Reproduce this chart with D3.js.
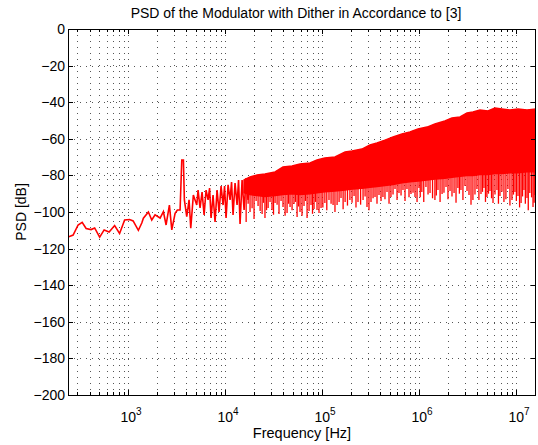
<!DOCTYPE html>
<html>
<head>
<meta charset="utf-8">
<style>
  body { margin: 0; background: #fff; }
  svg text { font-family: "Liberation Sans", Arial, Helvetica, sans-serif; fill: #000; }
</style>
</head>
<body>
<div id="chart"></div>
<script src="https://cdn.jsdelivr.net/npm/d3@7"></script>
<script>
    var width = 538,
        height = 445;

    var margin = {top: 29, right: 2, bottom: 50, left: 68};

    // low frequency part of the trace (single line, incl. tone at ~3.6 kHz)
    var lowFreq = [240, 271, 305, 336, 369, 415, 452, 509, 566, 637, 726, 817, 921, 1036, 1127, 1276,
        1384, 1438, 1619, 1754, 1897, 2138, 2312, 2465, 2667, 2822, 3053, 3224, 3436, 3579, 3719, 3806,
        4027, 4254, 4429, 4710, 5105, 5268, 5521, 5794, 6079, 6372, 6683, 6924, 7171, 7520, 7886, 8270,
        8674, 9096, 9539, 9886, 10240, 10740, 11260, 11670, 12090, 12680, 13300, 13780, 14280, 14980,
        15710, 16460, 17260, 18100];
    var lowDb = [-113.7, -112.6, -107.1, -105.7, -109.0, -109.6, -108.7, -113.7, -109.8, -110.9, -107.4,
        -111.7, -104.4, -104.1, -104.9, -110.0, -106.0, -103.4, -100.0, -104.4, -101.6, -103.3, -99.8,
        -107.1, -96.2, -109.8, -100.7, -98.9, -98.9, -71.6, -71.6, -93.4, -102.6, -93.4, -108.9, -90.7,
        -96.2, -88.0, -97.8, -89.1, -101.6, -88.0, -93.4, -86.9, -103.3, -90.7, -105.5, -88.0, -100.0,
        -85.8, -96.2, -85.8, -103.3, -85.2, -93.4, -83.6, -101.6, -84.2, -96.2, -82.5, -106.6, -82.5,
        -98.9, -81.4, -93.4, -80.9];

    // dense noisy band above ~15 kHz: upper edge and solid lower edge
    var bandFreq = [15700, 18100, 21400, 25800, 32800, 39600, 49100, 59300, 75200, 88800, 107000,
        136000, 173000, 204000, 258000, 312000, 369000, 446000, 540000, 668000, 808000, 977000,
        1.21e6, 1.46e6, 1.85e6, 2.19e6, 2.65e6, 3.13e6, 3.60e6, 4.26e6, 5.14e6, 6.08e6, 7.17e6,
        8.67e6, 1.05e7, 1.30e7, 1.61e7];
    var bandTopDb = [-82.5, -80.9, -79.8, -79.2, -78.1, -75.4, -74.9, -73.8, -73.2, -71.6, -70.5,
        -69.9, -67.2, -66.7, -65.6, -63.4, -62.3, -60.7, -59.0, -57.4, -56.3, -54.6, -53.6, -51.9,
        -50.3, -48.6, -48.1, -45.9, -45.4, -44.3, -44.8, -43.2, -43.7, -44.3, -43.7, -44.3, -43.7];
    var bandBottomDb = [-89.5, -90.5, -91.0, -91.5, -91.0, -90.5, -90.0, -90.5, -90.0, -89.5, -89.0,
        -88.5, -88.0, -87.5, -87.0, -86.5, -86.0, -85.5, -85.0, -84.0, -83.5, -83.0, -82.5, -82.0,
        -81.5, -81.0, -80.5, -80.0, -80.0, -79.5, -79.5, -79.0, -79.0, -78.5, -78.5, -78.0, -78.0];

    // downward spikes below the band
    var spikeFreq = [16500, 18100, 19900, 21900, 24100, 25800, 27800, 30500, 32800, 36000, 39600,
        43600, 46800, 51400, 55300, 59300, 65200, 70100, 77000, 82700, 88800, 97700, 107000, 118000,
        130000, 143000, 157000, 173000, 194000, 214000, 235000, 265000, 291000, 320000, 352000,
        387000, 425000, 468000, 514000, 566000, 622000, 684000, 752000, 827000, 910000, 1.0e6,
        1.07e6, 1.18e6, 1.30e6, 1.46e6, 1.57e6, 1.73e6, 1.90e6, 2.09e6, 2.30e6, 2.52e6, 2.71e6,
        2.98e6, 3.28e6, 3.60e6, 3.96e6, 4.36e6, 4.68e6, 5.02e6, 5.40e6, 5.80e6, 6.37e6, 6.84e6,
        7.52e6, 8.27e6, 9.10e6, 9.77e6, 1.05e7, 1.13e7, 1.21e7, 1.30e7, 1.39e7, 1.50e7, 1.57e7,
        17300, 19000, 20900, 23000, 24900, 26800, 29100, 31600, 34400, 37800, 41600, 45200, 49100,
        53300, 57300, 62200, 67600, 73500, 79800, 85700, 93100, 102000, 112000, 124000, 136000,
        150000, 165000, 183000, 204000, 224000, 250000, 278000, 305000, 336000, 369000, 406000,
        446000, 491000, 540000, 594000, 653000, 718000, 789000, 868000, 955000, 1.03e6, 1.12e6,
        1.24e6, 1.38e6, 1.51e6, 1.65e6, 1.81e6, 1.99e6, 2.19e6, 2.41e6, 2.61e6, 2.84e6, 3.13e6,
        3.44e6, 3.78e6, 4.15e6, 4.52e6, 4.85e6, 5.21e6, 5.60e6, 6.08e6, 6.60e6, 7.17e6, 7.88e6,
        8.67e6, 9.43e6, 1.01e7, 1.09e7, 1.17e7, 1.25e7, 1.34e7, 1.45e7, 1.54e7, 1.60e7];
    var spikeDb = [-105.5, -100.0, -103.8, -96.7, -101.1, -103.3, -97.8, -98.9, -95.1, -101.1, -97.3,
        -100.5, -97.3, -95.6, -102.7, -100.0, -96.7, -103.3, -96.2, -98.4, -98.9, -97.8, -95.1, -93.4,
        -96.2, -96.2, -92.3, -94.5, -93.4, -91.3, -94.5, -93.4, -97.3, -94.5, -91.8, -90.7, -91.8,
        -89.1, -91.8, -87.4, -89.6, -88.0, -87.4, -90.2, -91.8, -86.9, -89.1, -86.3, -89.6, -93.4,
        -88.0, -90.2, -86.3, -88.5, -89.6, -86.9, -88.0, -85.8, -90.7, -93.4, -87.4, -90.2, -86.9,
        -91.8, -88.5, -95.1, -88.0, -91.3, -94.5, -87.4, -93.4, -89.1, -91.3, -95.1, -88.0, -92.3,
        -89.6, -97.3, -90.7,
        -95.5, -98.0, -94.0, -99.5, -95.0, -99.0, -94.5, -101.5, -96.0, -94.0, -102.0, -95.5, -99.0,
        -94.5, -97.0, -102.0, -94.0, -99.5, -101.0, -94.5, -100.5, -97.5, -99.0, -95.5, -100.0,
        -94.5, -98.5, -96.5, -95.0, -97.5, -96.0, -91.5, -99.0, -92.5, -95.5, -94.0,
        -93.0, -95.5, -90.5, -93.5, -91.0, -94.0, -92.0, -89.5, -94.5, -92.0, -94.5,
        -90.5, -92.5, -91.0, -94.5, -89.5, -93.0, -91.5, -95.0, -90.0, -93.5, -88.5,
        -96.0, -90.5, -93.5, -89.0, -94.5, -90.0, -92.5, -90.5, -95.5, -89.0, -93.0,
        -96.5, -90.5, -94.0, -97.5, -91.5, -95.5, -99.0, -92.0, -95.0, -98.0];

    var yTicks = [0, -20, -40, -60, -80, -100, -120, -140, -160, -180, -200];
    var xDecades = [1e3, 1e4, 1e5, 1e6, 1e7];
    var xExp = ['3', '4', '5', '6', '7'];

    var svg = d3.select('#chart')
        .append('svg')
        .attr('width', width)
        .attr('height', height);

    var x = d3.scaleLog()
        .domain([240, 1.61e7])
        .range([margin.left, width - margin.right]);

    var y = d3.scaleLinear()
        .domain([-200, 0])
        .range([height - margin.bottom, margin.top]);

    var x0 = margin.left, x1 = width - margin.right,
        y0 = margin.top, y1 = height - margin.bottom;

    var allX = x.ticks().filter(function(d){ return x(d) > x0 + 0.5 && x(d) < x1 - 0.5; });
    var majorX = allX.filter(function(d){ return xDecades.indexOf(d) >= 0; });
    var minorX = allX.filter(function(d){ return xDecades.indexOf(d) < 0; });

    // dotted grid
    var grid = svg.append('g').attr('stroke', '#555').attr('stroke-width', 1)
        .attr('stroke-dasharray', '1,5');
    grid.selectAll('.gx').data(allX).enter().append('line')
        .attr('x1', function(d){ return Math.round(x(d)) + 0.5; })
        .attr('x2', function(d){ return Math.round(x(d)) + 0.5; })
        .attr('y1', y0).attr('y2', y1);
    grid.selectAll('.gy').data(yTicks.slice(1, -1)).enter().append('line')
        .attr('y1', function(d){ return Math.round(y(d)) + 0.5; })
        .attr('y2', function(d){ return Math.round(y(d)) + 0.5; })
        .attr('x1', x0).attr('x2', x1);

    // data
    svg.append('clipPath').attr('id', 'clip').append('rect')
        .attr('x', x0).attr('y', y0).attr('width', x1 - x0).attr('height', y1 - y0);
    var plot = svg.append('g').attr('clip-path', 'url(#clip)');

    var band = d3.area()
        .x(function(d){ return x(d[0]); })
        .y0(function(d){ return y(d[2]); })
        .y1(function(d){ return y(d[1]); });
    plot.append('path')
        .datum(bandFreq.map(function(f, i){ return [f, bandTopDb[i], bandBottomDb[i]]; }))
        .attr('d', band)
        .attr('fill', '#ff0000')
        .attr('stroke', '#ff0000')
        .attr('stroke-width', 1.5)
        .attr('stroke-linejoin', 'miter');

    var topAt = d3.scaleLog().domain(bandFreq).range(bandTopDb);
    plot.selectAll('.spike').data(spikeFreq).enter().append('line')
        .attr('x1', function(d){ return x(d); })
        .attr('x2', function(d){ return x(d); })
        .attr('y1', function(d, i){ return y(spikeDb[i]); })
        .attr('y2', function(d){ return y(topAt(d)); })
        .attr('stroke', '#ff0000')
        .attr('stroke-width', 1.3);

    var line = d3.line()
        .x(function(d){ return x(d[0]); })
        .y(function(d){ return y(d[1]); });
    plot.append('path')
        .datum(lowFreq.map(function(f, i){ return [f, lowDb[i]]; }))
        .attr('d', line)
        .attr('fill', 'none')
        .attr('stroke', '#ff0000')
        .attr('stroke-width', 1.6);

    // ticks (inward, on all sides)
    var ticks = svg.append('g').attr('stroke', '#000').attr('stroke-width', 1);
    function xTick(list, len){
        list.forEach(function(d){
            var px = Math.round(x(d)) + 0.5;
            ticks.append('line').attr('x1', px).attr('x2', px).attr('y1', y1).attr('y2', y1 - len);
            ticks.append('line').attr('x1', px).attr('x2', px).attr('y1', y0).attr('y2', y0 + len);
        });
    }
    xTick(majorX, 5);
    xTick(minorX, 3);
    yTicks.forEach(function(d){
        var py = Math.round(y(d)) + 0.5;
        ticks.append('line').attr('x1', x0).attr('x2', x0 + 5).attr('y1', py).attr('y2', py);
        ticks.append('line').attr('x1', x1).attr('x2', x1 - 5).attr('y1', py).attr('y2', py);
    });

    // box
    svg.append('rect')
        .attr('x', x0 + 0.5).attr('y', y0 + 0.5)
        .attr('width', x1 - x0 - 1).attr('height', y1 - y0)
        .attr('fill', 'none').attr('stroke', '#000').attr('stroke-width', 1);

    // labels
    svg.selectAll('.ylab').data(yTicks).enter().append('text')
        .attr('x', x0 - 3)
        .attr('y', function(d){ return y(d) + 5; })
        .attr('text-anchor', 'end')
        .style('font-size', '14px')
        .text(function(d){ return d === 0 ? '0' : '\u2212' + Math.abs(d); });

    var xl = svg.selectAll('.xlab').data(xDecades).enter().append('text')
        .attr('x', function(d){ return x(d) + 3; })
        .attr('y', 422)
        .attr('text-anchor', 'middle')
        .style('font-size', '14px');
    xl.append('tspan').text('10');
    xl.append('tspan').attr('dy', -7).style('font-size', '10px').text(function(d, i){ return xExp[i]; });

    svg.append('text')
        .attr('x', (x0 + x1) / 2)
        .attr('y', 438)
        .attr('text-anchor', 'middle')
        .style('font-size', '14.5px')
        .text('Frequency [Hz]');

    svg.append('text')
        .attr('transform', 'translate(26,' + ((y0 + y1) / 2) + ') rotate(-90)')
        .attr('text-anchor', 'middle')
        .style('font-size', '14px')
        .text('PSD [dB]');

    svg.append('text')
        .attr('x', (x0 + x1) / 2 - 6)
        .attr('y', 18)
        .attr('text-anchor', 'middle')
        .style('font-size', '14px')
        .text('PSD of the Modulator with Dither in Accordance to [3]');
</script>
</body>
</html>
